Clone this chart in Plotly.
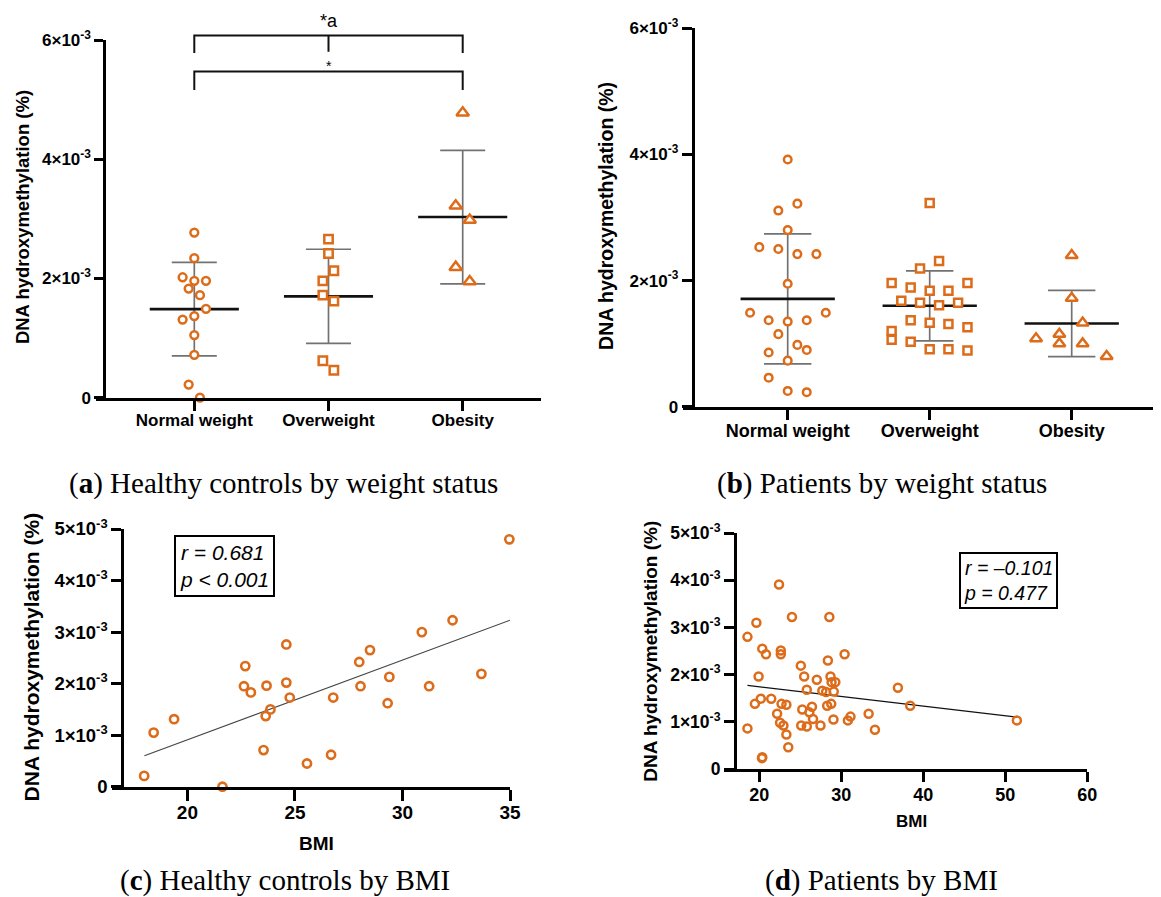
import plotly.graph_objects as go

# ---------------- data (values in units of 10^-3 %) ----------------
categories = ["Normal weight", "Overweight", "Obesity"]

# (a) Healthy controls by weight status
a_normal = [2.77, 2.34, 2.02, 1.96, 1.96, 1.83, 1.72, 1.49, 1.37, 1.31, 1.05, 0.72, 0.22, 0.00]
a_overweight = [2.66, 2.42, 2.13, 1.96, 1.72, 1.62, 0.62, 0.46]
a_obesity = [4.78, 3.22, 2.98, 2.19, 1.95]
a_means = [1.485, 1.70, 3.03]
a_sds = [0.785, 0.79, 1.12]

# (b) Patients by weight status
b_normal = [3.92, 3.22, 3.11, 2.80, 2.53, 2.50, 2.42, 2.42, 1.95, 1.49, 1.49, 1.37, 1.35, 1.37,
            1.15, 0.98, 0.90, 0.86, 0.73, 0.46, 0.25, 0.23]
b_overweight = [3.23, 2.31, 2.19, 1.96, 1.96, 1.89, 1.84, 1.84, 1.68, 1.65, 1.61, 1.65, 1.37, 1.33,
                1.31, 1.26, 1.20, 1.06, 1.03, 0.91, 0.91, 0.89]
b_obesity = [2.40, 1.72, 1.33, 1.15, 1.08, 1.00, 1.00, 0.80]
b_means = [1.71, 1.60, 1.32]
b_sds = [1.03, 0.555, 0.525]

# (c) Healthy controls by BMI
c_bmi = [17.99, 18.43, 19.38, 21.63, 22.63, 22.69, 22.95, 23.54, 23.64, 23.68, 23.86, 24.60, 24.60,
         24.76, 25.56, 26.68, 26.78, 27.99, 28.05, 28.49, 29.31, 29.39, 30.90, 31.24, 32.33, 33.67, 34.97]
c_val = [0.21, 1.05, 1.31, 0.00, 1.95, 2.34, 1.83, 0.71, 1.37, 1.96, 1.50, 2.76, 2.02,
         1.73, 0.45, 0.62, 1.73, 2.42, 1.95, 2.65, 1.62, 2.13, 3.00, 1.95, 3.23, 2.19, 4.80]
c_fit_bmi = [18.0, 35.0]
c_fit_val = [0.60, 3.23]
c_stats = "r = 0.681<br>p &lt; 0.001"

# (d) Patients by BMI
d_bmi = [18.55, 19.64, 20.36, 20.81, 19.91, 20.18, 19.46, 18.55, 20.36, 20.32, 22.40, 23.98, 22.62,
         22.62, 21.45, 22.71, 23.30, 22.17, 22.53, 22.94, 23.30, 23.53, 25.06, 25.47, 25.79, 25.24,
         25.11, 25.79, 26.10, 26.42, 26.55, 27.01, 27.46, 27.68, 28.14, 28.36, 28.54, 28.27, 28.68,
         28.81, 29.08, 28.77, 29.27, 29.04, 30.40, 30.80, 31.12, 33.33, 34.10, 36.90, 38.40, 51.41]
d_val = [2.80, 3.10, 2.55, 2.43, 1.96, 1.49, 1.38, 0.86, 0.25, 0.23, 3.91, 3.22, 2.51,
         2.43, 1.49, 1.38, 1.36, 1.17, 0.98, 0.92, 0.73, 0.46, 2.19, 1.96, 1.68, 1.26,
         0.92, 0.90, 1.20, 1.32, 1.06, 1.89, 0.92, 1.66, 1.63, 2.30, 3.22, 1.34, 1.96,
         1.84, 1.64, 1.38, 1.84, 1.05, 2.43, 1.03, 1.11, 1.17, 0.83, 1.72, 1.34, 1.03]
d_fit_bmi = [18.55, 51.41]
d_fit_val = [1.77, 1.10]
d_stats = "r = \u20130.101<br>p = 0.477"

# beeswarm horizontal offsets (category units)
a_normal_jit = [0, 0, -0.087, 0, 0.087, -0.042, 0.042, 0.087, 0, -0.087, 0, 0, -0.042, 0.042]
a_over_jit = [0, 0, 0.04, -0.042, -0.042, 0.04, -0.042, 0.04]
a_obese_jit = [0, -0.052, 0.052, -0.052, 0.052]
b_normal_jit = [0, 0.068, -0.066, 0, -0.2, -0.066, 0.068, 0.202, 0, -0.265, 0.268, -0.134, 0, 0.134,
                -0.066, 0.068, 0.134, -0.134, 0, -0.134, 0, 0.134]
b_over_jit = [0, 0.066, -0.068, -0.268, 0.266, -0.134, 0, 0.132, -0.2, -0.068, 0.066, 0.2, -0.134, 0,
              0.132, 0.266, -0.268, -0.268, -0.134, 0, 0.132, 0.266]
b_obese_jit = [0, 0, 0.077, -0.087, -0.251, -0.087, 0.077, 0.246]

ticks_ab = [0, 2, 4, 6]
ticks_cd = [0, 1, 2, 3, 4, 5]
SCALE = 1e-3

# ---------------- layout helpers ----------------
# the page body adds an 8 px margin, so the figure is shifted by that much
OFF = 8
W, H = 1161 - OFF, 897 - OFF
def PX(p):
    return (p - OFF) / W
def PY(p):
    return 1 - (p - OFF) / H

ORANGE = "#DD6C1A"
GRAY = "#727272"
BLACK = "#111111"
SANS = "Liberation Sans"
SERIF = "Liberation Serif"

def tick_text(v):
    return "0" if v == 0 else f"{v}\u00d710<sup>-3</sup>"

fig = go.Figure()

def add_groups(xa, ya, groups, means, sds, cap_px):
    # SD error bars
    fig.add_trace(go.Scatter(
        x=list(range(len(means))), y=[m * SCALE for m in means], mode="markers",
        marker=dict(size=1, color="rgba(0,0,0,0)"),
        error_y=dict(type="data", array=[s * SCALE for s in sds], width=cap_px,
                     thickness=1.7, color=GRAY),
        xaxis=xa, yaxis=ya, showlegend=False, hoverinfo="skip"))
    # mean lines
    mx, my = [], []
    for i, m in enumerate(means):
        mx += [i - 0.332, i + 0.332, None]
        my += [m * SCALE, m * SCALE, None]
    fig.add_trace(go.Scatter(x=mx, y=my, mode="lines", line=dict(color=BLACK, width=2.6),
                             xaxis=xa, yaxis=ya, showlegend=False, hoverinfo="skip"))
    for i, (vals, jit, sym, size) in enumerate(groups):
        fig.add_trace(go.Scatter(
            x=[i + j for j in jit], y=[v * SCALE for v in vals], mode="markers",
            marker=dict(symbol=sym, size=size, color="white",
                        line=dict(color=ORANGE, width=2.5)),
            cliponaxis=False, xaxis=xa, yaxis=ya, showlegend=False, hoverinfo="skip"))

add_groups("x", "y",
           [(a_normal, a_normal_jit, "circle", 7.8),
            (a_overweight, a_over_jit, "square", 8.4),
            (a_obesity, a_obese_jit, "triangle-up", 11)],
           a_means, a_sds, 22.5)
add_groups("x2", "y2",
           [(b_normal, b_normal_jit, "circle", 7.6),
            (b_overweight, b_over_jit, "square", 8.0),
            (b_obesity, b_obese_jit, "triangle-up", 10.5)],
           b_means, b_sds, 23.7)

# (c)
fig.add_trace(go.Scatter(x=c_fit_bmi, y=[v * SCALE for v in c_fit_val], mode="lines",
                         line=dict(color="#444444", width=1.1), xaxis="x3", yaxis="y3",
                         showlegend=False, hoverinfo="skip"))
fig.add_trace(go.Scatter(x=c_bmi, y=[v * SCALE for v in c_val], mode="markers",
                         marker=dict(symbol="circle", size=8.2, color="rgba(0,0,0,0)",
                                     line=dict(color=ORANGE, width=2.6)),
                         cliponaxis=False, xaxis="x3", yaxis="y3", showlegend=False,
                         hoverinfo="skip"))
# (d)
fig.add_trace(go.Scatter(x=d_fit_bmi, y=[v * SCALE for v in d_fit_val], mode="lines",
                         line=dict(color=BLACK, width=1.3), xaxis="x4", yaxis="y4",
                         showlegend=False, hoverinfo="skip"))
fig.add_trace(go.Scatter(x=d_bmi, y=[v * SCALE for v in d_val], mode="markers",
                         marker=dict(symbol="circle", size=8.0, color="rgba(0,0,0,0)",
                                     line=dict(color=ORANGE, width=2.5)),
                         cliponaxis=False, xaxis="x4", yaxis="y4", showlegend=False,
                         hoverinfo="skip"))

# significance brackets in (a), drawn on an invisible overlay subplot with the same scale
br_top, br_top_leg, br_mid_leg = 6.074, 5.78, 5.805
br_low, br_low_leg = 5.47, 5.16
fig.add_trace(go.Scatter(
    x=[0, 0, 2, 2, None, 1, 1, None, 0, 0, 2, 2],
    y=[v * SCALE if v is not None else None for v in
       [br_top_leg, br_top, br_top, br_top_leg, None, br_top, br_mid_leg, None,
        br_low_leg, br_low, br_low, br_low_leg]],
    mode="lines", line=dict(color=BLACK, width=2), xaxis="x5", yaxis="y5",
    showlegend=False, hoverinfo="skip"))

# ---------------- axes ----------------
def base_axis(**kw):
    d = dict(showline=True, linewidth=3, linecolor="black", ticks="outside", tickwidth=3,
             tickcolor="black", showgrid=False, zeroline=False, fixedrange=True)
    d.update(kw)
    return d

# panel (a)
a_x0, a_x1, a_yaxis_px = 95.5, 541.0, 104.3
a_cat0_px, a_cat_step = 194.3, 134.2
a_y0_px, a_y1_px = 397.7, 40.0
a_xrange = [-(a_cat0_px - a_x0) / a_cat_step, 2 + (a_x1 - (a_cat0_px + 2 * a_cat_step)) / a_cat_step]
a_ydom = [PY(a_y0_px), PY(a_y1_px)]

# panel (b)
b_x0, b_x1, b_yaxis_px = 682.7, 1161.0, 692.7
b_cat0_px, b_cat_step = 787.7, 142.0
b_y0_px, b_y1_px = 406.7, 28.3
b_xrange = [-(b_cat0_px - b_x0) / b_cat_step, 2 + (b_x1 - (b_cat0_px + 2 * b_cat_step)) / b_cat_step]

tf_ab = dict(family=SANS, size=17, color="black", weight="bold")

fig.update_layout(
    xaxis=base_axis(domain=[PX(a_x0), PX(a_x1)], range=a_xrange, anchor="y",
                    tickmode="array", tickvals=[0, 1, 2], ticktext=categories, ticklen=10,
                    ticklabelstandoff=-5,
                    tickfont=dict(family=SANS, size=17, color="black", weight="bold")),
    yaxis=base_axis(domain=a_ydom, range=[0, 6 * SCALE], anchor="free", position=PX(a_yaxis_px),
                    tickmode="array", tickvals=[t * SCALE for t in ticks_ab],
                    ticktext=[tick_text(t) for t in ticks_ab], ticklen=9, tickfont=tf_ab),
    xaxis2=base_axis(domain=[PX(b_x0), PX(b_x1)], range=b_xrange, anchor="y2",
                     tickmode="array", tickvals=[0, 1, 2], ticktext=categories, ticklen=10,
                     ticklabelstandoff=-4,
                     tickfont=dict(family=SANS, size=18, color="black", weight="bold")),
    yaxis2=base_axis(domain=[PY(b_y0_px), PY(b_y1_px)], range=[0, 6 * SCALE], anchor="free",
                     position=PX(b_yaxis_px), tickmode="array",
                     tickvals=[t * SCALE for t in ticks_ab],
                     ticktext=[tick_text(t) for t in ticks_ab], ticklen=10, tickfont=tf_ab),
    xaxis3=base_axis(domain=[PX(111.7), PX(510.0)], range=[16.48, 35], anchor="y3",
                     tickmode="array", tickvals=[20, 25, 30, 35], ticklen=11,
                     ticklabelstandoff=-5,
                     tickfont=dict(family=SANS, size=19, color="black", weight="bold")),
    yaxis3=base_axis(domain=[PY(786.7), PY(529.0)], range=[0, 5 * SCALE], anchor="free",
                     position=PX(122.3), tickmode="array",
                     tickvals=[t * SCALE for t in ticks_cd],
                     ticktext=[tick_text(t) for t in ticks_cd], ticklen=10,
                     tickfont=dict(family=SANS, size=18.5, color="black", weight="bold")),
    xaxis4=base_axis(domain=[PX(724.4), PX(1087.3)], range=[15.74, 60], anchor="y4",
                     tickmode="array", tickvals=[20, 30, 40, 50, 60], ticklen=10,
                     ticklabelstandoff=-3,
                     tickfont=dict(family=SANS, size=18, color="black", weight="bold")),
    yaxis4=base_axis(domain=[PY(769.0), PY(533.0)], range=[0, 5 * SCALE], anchor="free",
                     position=PX(735.0), tickmode="array",
                     tickvals=[t * SCALE for t in ticks_cd],
                     ticktext=[tick_text(t) for t in ticks_cd], ticklen=10,
                     tickfont=dict(family=SANS, size=17.5, color="black", weight="bold")),
    xaxis5=dict(domain=[PX(a_x0), PX(a_x1)], range=a_xrange, anchor="y5", visible=False,
                fixedrange=True),
    yaxis5=dict(domain=[a_ydom[0], 1.0],
                range=[0, 6 * SCALE * (1 - a_ydom[0]) / (a_ydom[1] - a_ydom[0])],
                anchor="x5", visible=False, fixedrange=True),
)

# ---------------- annotations ----------------
ann = []
def text_ann(x, y, text, size, bold=False, angle=0, family=SANS, **kw):
    d = dict(xref="paper", yref="paper", x=PX(x), y=PY(y), text=text, showarrow=False,
             textangle=angle, xanchor="center", yanchor="middle",
             font=dict(family=family, size=size, color="black",
                       weight="bold" if bold else "normal"))
    d.update(kw)
    ann.append(d)

ytitle = "DNA hydroxymethylation (%)"
text_ann(22.4, 216.7, ytitle, 18.5, bold=True, angle=-90)
text_ann(605.9, 216.0, ytitle, 19.5, bold=True, angle=-90)
text_ann(31.7, 656.7, ytitle, 21, bold=True, angle=-90)
text_ann(651.1, 651.7, ytitle, 19, bold=True, angle=-90)
text_ann(316.7, 843.3, "BMI", 19, bold=True)
text_ann(911.5, 821.0, "BMI", 17, bold=True)

# significance labels
ann.append(dict(xref="x5", yref="y5", x=1, y=6.32 * SCALE, text="*a", showarrow=False,
                font=dict(family=SANS, size=18, color="black")))
ann.append(dict(xref="x5", yref="y5", x=1, y=5.57 * SCALE, text="*", showarrow=False,
                font=dict(family=SANS, size=14, color="black")))

# correlation boxes
text_ann(224.3, 566.3, "<i>" + c_stats + "</i>", 21, align="left",
         bordercolor="black", borderwidth=2, borderpad=4, bgcolor="white")
text_ann(1008.5, 580.8, "<i>" + d_stats + "</i>", 19.5, align="left",
         bordercolor="black", borderwidth=2, borderpad=3, bgcolor="white")

# captions
text_ann(283.3, 483.0, "(<b>a</b>) Healthy controls by weight status", 29, family=SERIF)
text_ann(882.0, 483.0, "(<b>b</b>) Patients by weight status", 29, family=SERIF)
text_ann(285.0, 880.0, "(<b>c</b>) Healthy controls by BMI", 29, family=SERIF)
text_ann(881.9, 880.0, "(<b>d</b>) Patients by BMI", 29, family=SERIF)

fig.update_layout(
    annotations=ann,
    width=W, height=H, margin=dict(l=0, r=0, t=0, b=0, autoexpand=False),
    paper_bgcolor="white", plot_bgcolor="rgba(0,0,0,0)",
    font=dict(family=SANS, color="black"),
    showlegend=False,
)

fig.write_html("out.html", config={"displayModeBar": False})
